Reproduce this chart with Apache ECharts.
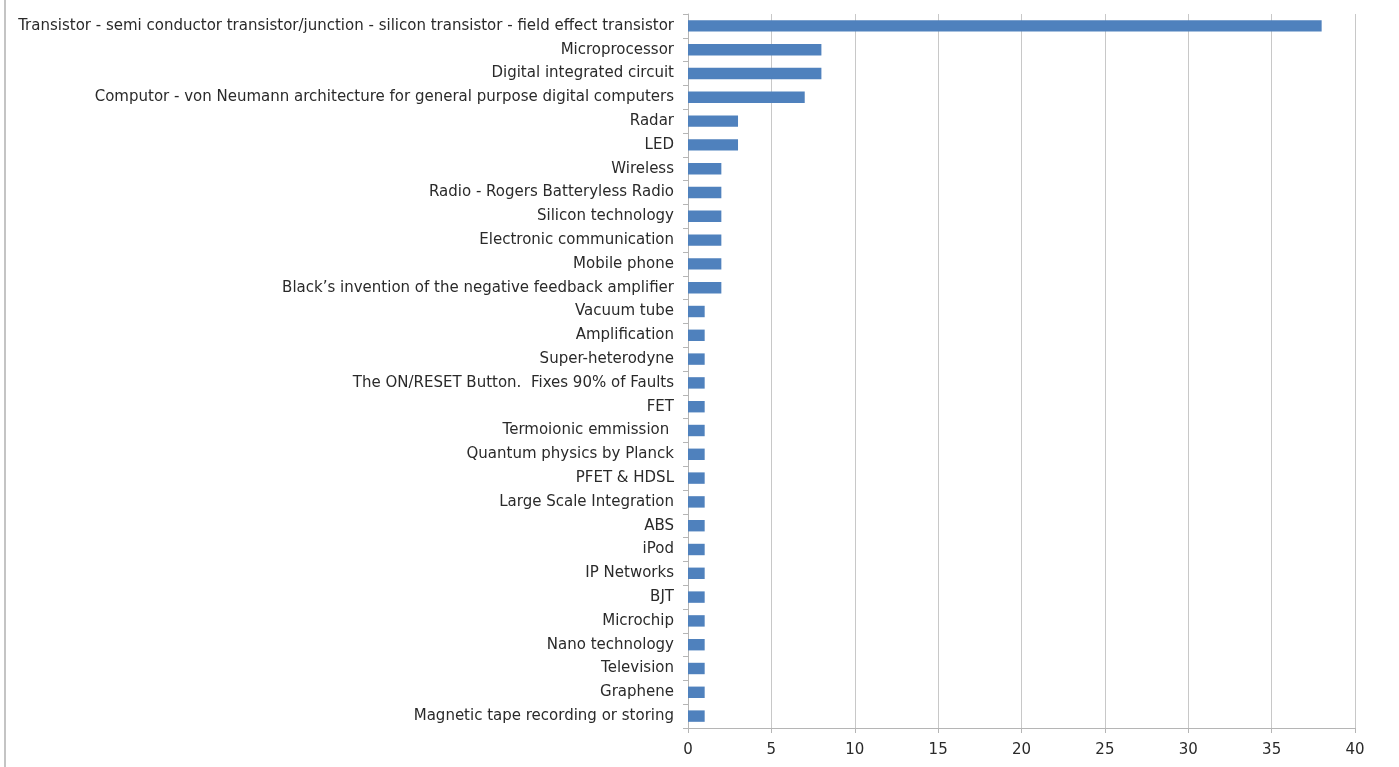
<!DOCTYPE html>
<html>
<head>
<meta charset="utf-8">
<script src="https://cdn.jsdelivr.net/npm/echarts@6/dist/echarts.min.js"></script>
<style>
html, body { margin: 0; padding: 0; background: #fff; }
#chart { width: 1399px; height: 767px; }
</style>
</head>
<body>
<div id="chart"></div>
<script>
// categories listed top to bottom
const categories = [
    'Transistor - semi conductor transistor/junction - silicon transistor - field effect transistor',
    'Microprocessor',
    'Digital integrated circuit',
    'Computor - von Neumann architecture for general purpose digital computers',
    'Radar',
    'LED',
    'Wireless',
    'Radio - Rogers Batteryless Radio',
    'Silicon technology',
    'Electronic communication',
    'Mobile phone',
    'Black\u2019s invention of the negative feedback amplifier',
    'Vacuum tube',
    'Amplification',
    'Super-heterodyne',
    'The ON/RESET Button.  Fixes 90% of Faults',
    'FET',
    'Termoionic emmission ',
    'Quantum physics by Planck',
    'PFET & HDSL',
    'Large Scale Integration',
    'ABS',
    'iPod',
    'IP Networks',
    'BJT',
    'Microchip',
    'Nano technology',
    'Television',
    'Graphene',
    'Magnetic tape recording or storing'
];
const counts = [38, 8, 8, 7, 3, 3, 2, 2, 2, 2, 2, 2, 1, 1, 1, 1, 1, 1, 1, 1, 1, 1, 1, 1, 1, 1, 1, 1, 1, 1];
const xTicks = [0, 5, 10, 15, 20, 25, 30, 35, 40];

const chart = echarts.init(document.getElementById('chart'));

const option = {
    animation: false,
    textStyle: {
        fontFamily: 'DejaVu Sans'
    },
    // thin frame edge on the left of the original image
    graphic: [
        {
            type: 'line',
            shape: { x1: 5, y1: 0, x2: 5, y2: 767 },
            style: { stroke: '#c4c4c4', lineWidth: 2 }
        }
    ],
    grid: {
        left: 688,
        right: 44,
        top: 14,
        bottom: 39
    },
    xAxis: {
        type: 'value',
        min: xTicks[0],
        max: xTicks[xTicks.length - 1],
        interval: 5,
        axisLine: { show: true, lineStyle: { color: '#b5b5b5' } },
        axisTick: { show: true, length: 5, lineStyle: { color: '#b5b5b5' } },
        axisLabel: { color: '#2a2a2a', fontSize: 15, margin: 15 },
        splitLine: { show: true, lineStyle: { color: '#c8c8c8', width: 1 } }
    },
    yAxis: {
        type: 'category',
        inverse: true,
        data: categories,
        axisLine: { show: true, lineStyle: { color: '#b5b5b5' } },
        axisTick: { show: true, length: 5, lineStyle: { color: '#b5b5b5' } },
        axisLabel: { color: '#2a2a2a', fontSize: 15, margin: 14, interval: 0 }
    },
    series: [
        {
            type: 'bar',
            data: counts,
            barCategoryGap: '52%',
            itemStyle: { color: '#4f81bd' }
        }
    ]
};

chart.setOption(option);

window.addEventListener('resize', _ => {
    chart.resize();
});
</script>
</body>
</html>
